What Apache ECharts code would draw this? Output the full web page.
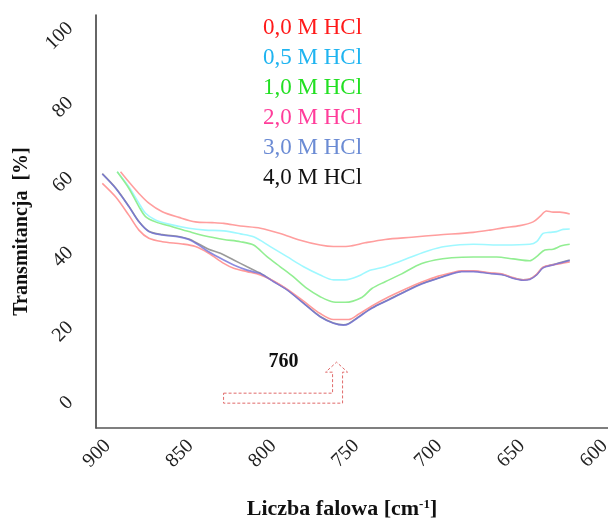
<!DOCTYPE html>
<html>
<head>
<meta charset="utf-8">
<script src="https://cdn.jsdelivr.net/npm/echarts@6/dist/echarts.min.js"></script>
<style>
html, body { margin: 0; padding: 0; background: #fff; }
#main { width: 608px; height: 522px; }
</style>
</head>
<body>
<div id="main"></div>
<script>
// legend names / colours
var names = ['0,0 M HCl', '0,5 M HCl', '1,0 M HCl', '2,0 M HCl', '3,0 M HCl', '4,0 M HCl'];
var textColors = ['#ff1a1a', '#1fb4f0', '#22e022', '#ff3d9a', '#6b8bd4', '#111111'];
var lineColors = ['#ff9e9e', '#9ff8ff', '#92ee92', '#ff9a9a', '#6f6fd8', '#9a9a9a'];

var xTicks = [900, 850, 800, 750, 700, 650, 600];
var yTicks = [0, 20, 40, 60, 80, 100];
var peakWn = 760;

// [wavenumber, transmittance]
var hcl00 = [[892.2,60.9],[887.2,58.2],[881.1,55.1],[875.1,52.5],[867,50.2],[857,48.7],[847,47.5],[836.9,47.3],
  [829.9,47.1],[819.9,46.4],[807.8,45.8],[795.8,44.4],[783.7,42.6],[771.7,41.3],[763.7,40.9],[754.6,41.0],
  [744.6,41.9],[732.5,42.8],[716.4,43.4],[700.4,44.0],[679.3,44.7],[669.3,45.3],[661.3,45.9],[651.2,46.5],
  [643.2,47.5],[639.2,48.9],[635.1,50.4],[631.1,50.1],[627.1,50.1],[621.1,49.6]];
var hcl05 = [[894.2,60.9],[887.2,56.9],[881.1,52.5],[877.1,49.8],[871.1,48.0],[863.1,46.9],[851,45.8],[841,45.3],
  [829.9,45.1],[819.9,44.3],[811.9,43.5],[801.8,40.9],[791.7,38.2],[781.7,35.5],[771.7,33.3],[763.7,32.0],
  [756.6,32.0],[748.6,33.0],[742.6,34.4],[732.5,35.5],[724.5,36.8],[716.4,38.2],[706.4,39.8],[696.4,40.9],
  [679.3,41.5],[661.3,41.3],[645.2,41.5],[641.1,42.2],[637.2,44.4],[633.1,44.7],[629.1,44.9],[625.1,45.5],[621.1,45.6]];
var hcl10 = [[894.2,60.9],[887.2,56.5],[881.1,51.6],[877.1,48.9],[871.1,47.5],[861,46.2],[851,44.9],[841,43.7],
  [829.9,42.8],[819.9,42.2],[811.9,41.3],[803.8,38.2],[795.8,35.5],[787.8,32.8],[779.7,29.7],[771.7,27.5],
  [763.7,26.1],[756.6,26.0],[746.6,27.3],[740.5,29.7],[732.5,31.5],[722.5,33.6],[712.5,36.0],[702.4,37.3],
  [692.3,37.9],[679.3,38.1],[665.2,38.1],[655.2,37.6],[645.2,37.1],[641.1,38.2],[636.1,40.0],[631.1,40.2],
  [626.1,41.1],[621.1,41.5]];
var hcl20 = [[903.2,57.8],[895.2,54.2],[887.2,49.3],[881.1,45.3],[875.1,43.1],[867,42.2],[855,41.6],[847,40.9],
  [839,39.1],[829.9,36.4],[823.9,35.1],[815.8,34.2],[807.8,33.3],[799.8,31.7],[791.7,29.5],[781.7,26.3],
  [771.7,23.0],[763.7,21.4],[754.6,21.4],[748.6,22.8],[740.5,25.0],[730.5,27.4],[720.5,29.5],[710.4,31.4],
  [700.4,33.0],[692.3,33.9],[686.3,34.4],[679.3,34.4],[669.3,33.9],[661.3,33.5],[655.2,32.6],[649.2,32.0],
  [645.2,32.2],[641.1,33.5],[637.2,35.4],[631.1,36.0],[626.1,36.4],[621.1,36.8]];
var hcl30 = [[903.2,60.3],[895.2,56.5],[887.2,51.6],[881.1,47.5],[875.1,44.9],[867,44.0],[857,43.5],[851,42.8],
  [845,41.3],[839,39.5],[829.9,37.3],[823.9,36.0],[815.8,34.6],[809.8,33.9],[807.8,33.7],[799.8,31.5],
  [791.7,29.3],[781.7,25.7],[771.7,22.1],[763.7,20.4],[757.7,19.9],[754.6,20.2],[748.6,22.0],[740.5,24.4],
  [730.5,26.6],[720.5,28.8],[710.4,30.9],[700.4,32.4],[692.3,33.6],[686.3,34.2],[679.3,34.2],[669.3,33.7],
  [661.3,33.3],[655.2,32.4],[649.2,31.9],[645.2,32.1],[641.1,33.3],[637.2,35.2],[631.1,36.0],[626.1,36.6],[621.1,37.2]];
var hcl40 = [[903.2,60.4],[895.2,56.6],[887.2,51.7],[881.1,47.6],[875.1,45.0],[867,44.1],[857,43.6],[851,42.9],
  [845,41.6],[839,40.2],[831.9,39.1],[823.9,37.3],[815.8,35.5],[809.8,34.2],[807.8,33.8],[799.8,31.6],
  [791.7,29.4],[781.7,25.8],[771.7,22.2],[763.7,20.5],[757.7,20.0],[754.6,20.3],[748.6,22.1],[740.5,24.5],
  [730.5,26.7],[720.5,28.9],[710.4,31.0],[700.4,32.5],[692.3,33.7],[686.3,34.3],[679.3,34.3],[669.3,33.8],
  [661.3,33.4],[655.2,32.5],[649.2,32.0],[645.2,32.2],[641.1,33.4],[637.2,35.3],[631.1,36.1],[626.1,36.7],[621.1,37.3]];

var seriesData = [hcl00, hcl05, hcl10, hcl20, hcl30, hcl40];
var zOrder = [2, 2, 2, 3, 5, 1];

var serif = 'Liberation Serif';
var chart = echarts.init(document.getElementById('main'));

var option = {
  animation: false,
  backgroundColor: '#fff',
  grid: { left: 96, top: 15, right: 0, bottom: 94, containLabel: false, outerBoundsMode: 'none' },
  legend: {
    orient: 'vertical',
    left: 258,
    top: 16,
    padding: 0,
    itemGap: 7,
    itemWidth: 0,
    itemHeight: 14,
    icon: 'none',
    selectedMode: false,
    textStyle: { fontFamily: serif, fontSize: 23 },
    data: names.map(function (n, i) {
      return { name: n, icon: 'none', textStyle: { color: textColors[i] } };
    })
  },
  xAxis: {
    type: 'value',
    inverse: true,
    min: 598,
    max: 907,
    name: 'Liczba falowa [cm{sup|-1}]',
    nameLocation: 'middle',
    nameGap: 70,
    nameTextStyle: {
      fontFamily: serif, fontSize: 22, fontWeight: 'bold', color: '#111',
      padding: [0, 20, 0, 0],
      rich: { sup: { fontFamily: serif, fontSize: 13, fontWeight: 'bold', color: '#111', verticalAlign: 'top', padding: [0, 0, 8, 0] } }
    },
    axisLine: { show: true, onZero: false, lineStyle: { color: '#555', width: 1.5 } },
    axisTick: { show: false },
    splitLine: { show: false },
    axisLabel: {
      customValues: xTicks,
      rotate: 45,
      margin: 15,
      fontFamily: serif,
      fontSize: 20,
      color: '#222'
    }
  },
  yAxis: {
    type: 'value',
    min: -7.6,
    max: 102.8,
    name: 'Transmitancja  [%]',
    nameLocation: 'middle',
    nameGap: 64,
    nameTextStyle: {
      fontFamily: serif, fontSize: 20, fontWeight: 'bold', color: '#111',
      padding: [0, 20, 0, 0]
    },
    axisLine: { show: true, onZero: false, lineStyle: { color: '#333', width: 1.5 } },
    axisTick: { show: false },
    splitLine: { show: false },
    axisLabel: {
      customValues: yTicks,
      rotate: 45,
      margin: 26,
      fontFamily: serif,
      fontSize: 20,
      color: '#222'
    }
  },
  series: seriesData.map(function (d, i) {
    return {
      name: names[i],
      type: 'line',
      data: d,
      z: zOrder[i],
      showSymbol: false,
      symbol: 'none',
      smooth: 0.3,
      lineStyle: { color: lineColors[i], width: 1.6, opacity: i === 4 ? 0.8 : 1 },
      itemStyle: { color: lineColors[i] }
    };
  })
};

chart.setOption(option);

// bent dashed arrow pointing at the 760 band
var tx = chart.convertToPixel({ xAxisIndex: 0 }, peakWn) - 3;
var ty = chart.convertToPixel({ yAxisIndex: 0 }, 10);
chart.setOption({
  graphic: [
    {
      type: 'polygon',
      shape: {
        points: [
          [tx - 113, ty + 31], [tx - 4, ty + 31], [tx - 4, ty + 10], [tx - 11, ty + 10], [tx, ty],
          [tx + 11, ty + 10], [tx + 6, ty + 10], [tx + 6, ty + 41], [tx - 113, ty + 41]
        ]
      },
      style: { fill: 'none', stroke: '#e06a6a', lineWidth: 1, lineDash: [3, 2] },
      z: 10
    },
    {
      type: 'text',
      x: tx - 53,
      y: ty,
      style: {
        text: String(peakWn),
        font: 'bold 20px "Liberation Serif"',
        fill: '#111',
        align: 'center',
        verticalAlign: 'middle'
      },
      z: 10
    }
  ]
});
</script>
</body>
</html>
